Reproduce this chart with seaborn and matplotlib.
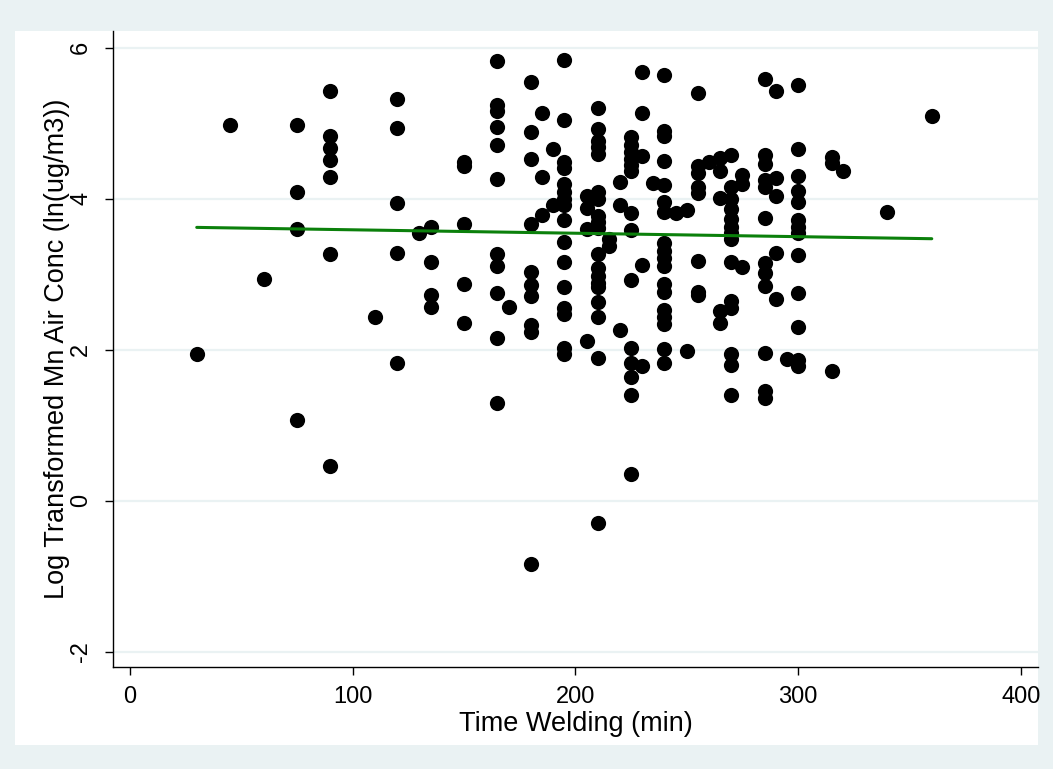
import numpy as np
import pandas as pd
import seaborn as sns
import matplotlib.pyplot as plt
from matplotlib.patches import Rectangle

# ---- data (time welding in minutes, log Mn conc) ----
time_cols = [30, 45, 60, 75, 90, 110, 120, 130, 135, 150, 165, 170, 180, 185, 190,
             195, 205, 210, 215, 220, 225, 230, 235, 240, 245, 250, 255, 260, 265,
             270, 275, 285, 290, 295, 300, 315, 320, 340, 360]
conc_cols = [
    [1.95],
    [4.98],
    [2.94],
    [4.98, 4.09, 3.60, 1.07],
    [5.43, 4.83, 4.67, 4.51, 4.29, 3.27, 0.46],
    [2.44],
    [5.32, 4.94, 3.94, 3.28, 1.83],
    [3.55],
    [3.63, 3.16, 2.73, 2.57],
    [4.49, 4.43, 3.66, 2.87, 2.36],
    [5.82, 5.24, 5.16, 4.95, 4.71, 4.26, 3.27, 3.11, 2.75, 2.16, 1.29],
    [2.57],
    [5.55, 4.88, 4.52, 3.67, 3.03, 2.86, 2.71, 2.33, 2.24, -0.83],
    [5.14, 4.29, 3.79],
    [4.66, 3.92],
    [5.83, 5.04, 4.49, 4.41, 4.19, 4.09, 4.00, 3.91, 3.72, 3.43, 3.16, 2.83, 2.55, 2.47, 2.02, 1.95],
    [4.03, 3.88, 3.60, 2.12],
    [5.20, 4.92, 4.77, 4.68, 4.59, 4.09, 4.00, 3.77, 3.69, 3.61, 3.27, 3.08, 2.98, 2.89, 2.83, 2.63, 2.43, 1.89, -0.30],
    [3.47, 3.38],
    [4.22, 3.92, 2.26],
    [4.82, 4.71, 4.62, 4.53, 4.44, 4.36, 3.81, 3.59, 2.93, 2.02, 1.82, 1.64, 1.40, 0.36],
    [5.68, 5.14, 4.56, 3.12, 1.78],
    [4.21],
    [5.64, 4.89, 4.83, 4.50, 4.18, 3.95, 3.83, 3.41, 3.31, 3.21, 3.11, 2.87, 2.76, 2.53, 2.43, 2.34, 2.01, 1.82],
    [3.81],
    [3.85, 1.99],
    [5.40, 4.43, 4.34, 4.16, 4.07, 3.17, 2.77, 2.72],
    [4.49],
    [4.54, 4.36, 4.01, 2.51, 2.35],
    [4.58, 4.16, 3.99, 3.86, 3.73, 3.63, 3.55, 3.46, 3.16, 2.65, 2.55, 1.95, 1.80, 1.40],
    [4.31, 4.20, 3.09],
    [5.58, 4.58, 4.46, 4.25, 4.16, 3.74, 3.15, 3.01, 2.84, 1.96, 1.45, 1.36],
    [5.43, 4.27, 4.04, 3.28, 2.67],
    [1.88],
    [5.50, 4.66, 4.30, 4.10, 3.96, 3.72, 3.62, 3.55, 3.25, 2.75, 2.30, 1.87, 1.79],
    [4.55, 4.47, 1.72],
    [4.37],
    [3.82],
    [5.09],
]

# fitted (linear) line: ends at the data range
fit_time = [30, 360]
fit_conc = [3.62, 3.47]

x_ticks = [0, 100, 200, 300, 400]
y_ticks = [-2, 0, 2, 4, 6]
x_label = "Time Welding (min)"
y_label = "Log Transformed Mn Air Conc (ln(ug/m3))"

times, concs = [], []
for t, vals in zip(time_cols, conc_cols):
    for v in vals:
        times.append(t)
        concs.append(v)
df = pd.DataFrame({"time": times, "conc": concs})
fit_df = pd.DataFrame({"time": fit_time, "conc": fit_conc})

# ---- styling ----
sns.set_theme(style="white")
plt.rcParams['font.family'] = ['Liberation Sans', 'DejaVu Sans']

W, H = 1053, 769
bg = '#EAF2F3'
fig = plt.figure(figsize=(W / 100, H / 100), dpi=100, facecolor=bg)
fig.patches.append(Rectangle((15 / W, 1 - 745 / H), (1038 - 15) / W, (745 - 31) / H,
                             transform=fig.transFigure, facecolor='white',
                             edgecolor='none', zorder=-1))
ax = fig.add_axes([113 / W, 1 - 667 / H, (1038 - 113) / W, (667 - 31) / H])
ax.set_facecolor('white')

sns.scatterplot(data=df, x="time", y="conc", ax=ax, color='black', s=120,
                linewidth=0, zorder=3, legend=False)
sns.lineplot(data=fit_df, x="time", y="conc", ax=ax, color='#0b800b',
             linewidth=2.2, zorder=4, legend=False)

ax.set_xlim(-7.6, 407.7)
ax.set_ylim(-2.2, 6.22)
ax.set_xticks(x_ticks)
ax.set_yticks(y_ticks)
ax.set_xticklabels([str(v) for v in x_ticks], fontsize=17)
ax.set_yticklabels([str(v) for v in y_ticks], fontsize=17, rotation=90, va='center')
ax.yaxis.grid(True, color=bg, linewidth=1.6)
ax.xaxis.grid(False)
ax.set_axisbelow(True)
for s in ['top', 'right']:
    ax.spines[s].set_visible(False)
for s in ['left', 'bottom']:
    ax.spines[s].set_color('black')
    ax.spines[s].set_linewidth(1.0)
ax.tick_params(axis='x', direction='out', length=6, width=1, color='black',
               labelcolor='black', pad=8, bottom=True)
ax.tick_params(axis='y', direction='out', length=6, width=1, color='black',
               labelcolor='black', pad=9, left=True)
ax.set_xlabel(x_label, fontsize=19.5, color='black', labelpad=2)
ax.set_ylabel(y_label, fontsize=19.5, color='black', labelpad=0)

fig.savefig("out.png", dpi=100, facecolor=bg)
